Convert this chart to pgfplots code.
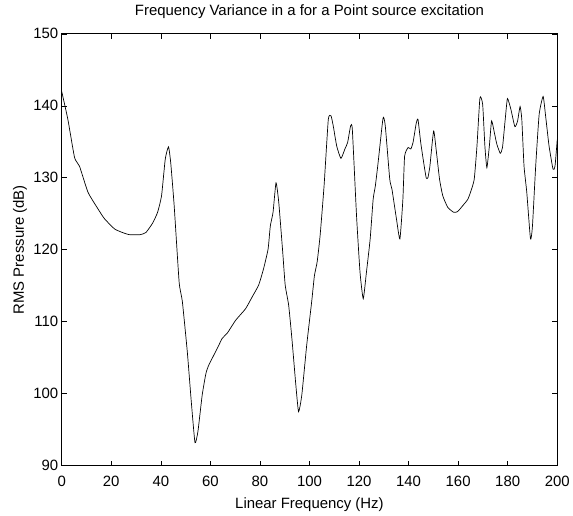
\documentclass[border=0pt]{standalone}
\usepackage{fontspec}
\setmainfont{Liberation Sans}
\usepackage{pgfplots}
\pgfplotsset{compat=1.18}
\begin{document}
\begin{tikzpicture}
\begin{axis}[
  scale only axis,
  width=498pt, height=434pt,
  xmin=0, xmax=200, ymin=90, ymax=150,
  xtick={0,20,...,200}, ytick={90,100,...,150},
  tick align=inside,
  major tick length=5pt,
  /pgf/number format/assume math mode=true,
  ticklabel style={font=\fontsize{15}{17}\selectfont},
  xticklabel style={anchor=base, yshift=-21pt},
  label style={font=\fontsize{15}{17}\selectfont},
  title style={font=\fontsize{15}{17}\selectfont, at={(axis description cs:0.5,1.02903)}, anchor=base},
  title={Frequency Variance in a for a Point source excitation},
  xlabel={Linear Frequency (Hz)},
  ylabel={RMS Pressure (dB)},
  xlabel style={at={(axis description cs:0.5,-0.09977)}, anchor=base},
  ylabel style={at={(axis description cs:-0.0763,0.5)}, anchor=base},
  axis line style={line width=0.8pt},
  every tick/.style={black, line width=0.6pt},
]
\addplot[black, line width=0.7pt, smooth, tension=0.3] coordinates {
(0,142.0)(2.5,138.1)(5.2,132.8)(7.2,131.6)(10.6,128.0)(14.6,125.7)(17.3,124.3)
(21.3,122.9)(24.5,122.4)(27.3,122.1)(31.7,122.1)(34.0,122.4)(36.7,123.7)(38.7,125.2)
(40.3,127.5)(41.8,132.6)(43.1,134.3)(44.0,132.1)(45.4,126.1)(47.4,115.5)(48.7,112.8)
(50.7,105.8)(52.3,98.9)(53.8,93.2)(55.0,94.8)(56.7,99.8)(58.2,102.8)(59.4,104.0)
(62.8,106.3)(64.8,107.7)(66.8,108.4)(70.2,110.2)(74.2,111.8)(76.8,113.4)(79.5,115.1)
(81.5,117.4)(83.3,120.1)(84.2,123.3)(85.3,125.2)(86.5,129.3)(87.6,126.6)(89.2,119.7)
(90.2,115.1)(91.6,112.3)(92.9,107.7)(94.5,101.2)(95.6,97.5)(96.9,99.8)(98.9,106.8)
(100.9,112.8)(102.0,116.4)(103.1,118.3)(104.3,122.0)(105.9,128.9)(107.6,138.1)
(108.7,138.6)(109.6,137.2)(111.0,134.4)(112.7,132.7)(114.3,134.0)(115.4,134.9)
(116.6,137.2)(117.3,136.7)(119.0,124.7)(120.4,116.9)(121.7,113.2)(123.0,116.9)
(124.5,121.5)(125.7,127.0)(126.6,128.9)(127.7,132.1)(129.7,138.3)(130.6,137.2)
(132.4,129.8)(133.3,128.4)(135.1,124.3)(136.5,121.5)(137.7,127.0)(138.4,133.0)
(139.8,134.2)(140.9,134.0)(141.8,134.9)(143.1,137.6)(143.8,138.1)(144.9,134.9)
(146.1,132.1)(147.1,130.0)(147.8,130.0)(148.6,131.6)(150.1,136.5)(151.1,134.0)
(152.5,129.8)(153.8,127.5)(155.8,125.9)(158.2,125.2)(159.8,125.3)(161.8,126.1)
(163.9,127.0)(165.2,128.2)(166.5,129.8)(167.6,134.4)(168.8,141.1)(169.9,140.2)
(170.8,134.4)(171.6,131.4)(172.6,134.4)(173.5,137.9)(174.6,136.3)(175.6,134.7)
(177.0,133.4)(177.9,134.2)(179.0,138.1)(179.9,141.0)(181.3,139.5)(182.9,137.1)
(184.0,137.9)(185.0,139.9)(185.7,138.1)(186.6,131.6)(187.7,128.0)(189.2,121.5)
(190.0,123.3)(191.3,131.6)(192.7,138.8)(194.3,141.3)(195.3,138.6)(196.7,134.4)
(198.3,131.2)(199.1,131.6)(200,135.3)
};
\end{axis}
\path (current axis.south west) ++(-62pt,-46pt) coordinate (bbA);
\path (current axis.north east) ++(13pt,34pt) coordinate (bbB);
\useasboundingbox (bbA) rectangle (bbB);
\end{tikzpicture}
\end{document}
